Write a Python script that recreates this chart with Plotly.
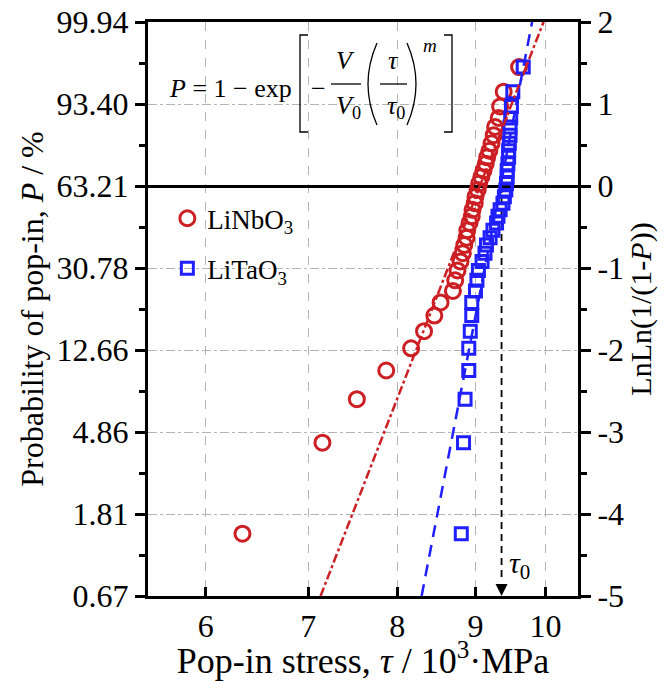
import math
import plotly.graph_objects as go

# Weibull plotting position LnLn(1/(1-P)) of each ranked pop-in (35 indents per crystal)
lnln = [-4.24, -3.13, -2.60, -2.25, -1.98, -1.77, -1.58, -1.42, -1.28, -1.15,
        -1.03, -0.92, -0.82, -0.72, -0.63, -0.54, -0.45, -0.37, -0.29, -0.21,
        -0.13, -0.05, 0.03, 0.11, 0.19, 0.27, 0.35, 0.43, 0.52, 0.62,
        0.72, 0.83, 0.97, 1.15, 1.45]

# pop-in stress, 10^3 MPa
tau_linbo3 = [6.34, 7.15, 7.53, 7.87, 8.17, 8.33, 8.46, 8.54, 8.70, 8.73,
              8.76, 8.80, 8.83, 8.85, 8.88, 8.89, 8.92, 8.95, 8.96, 8.99,
              9.00, 9.03, 9.05, 9.08, 9.11, 9.14, 9.16, 9.19, 9.22, 9.25,
              9.27, 9.32, 9.34, 9.39, 9.61]
tau_litao3 = [8.81, 8.84, 8.86, 8.91, 8.91, 8.93, 8.95, 8.95, 9.00, 9.02,
              9.04, 9.09, 9.13, 9.15, 9.20, 9.24, 9.29, 9.31, 9.34, 9.38,
              9.40, 9.42, 9.43, 9.44, 9.44, 9.45, 9.46, 9.46, 9.47, 9.48,
              9.48, 9.49, 9.50, 9.52, 9.67]

# Weibull fit lines (end points)
fit_y = [-5, 2]
fit_linbo3_tau = [7.13, 9.97]
fit_litao3_tau = [8.30, 9.80]
tau0 = 9.36

y_ticks = [-5, -4, -3, -2, -1, 0, 1, 2]
prob_labels = ["0.67", "1.81", "4.86", "12.66", "30.78", "63.21", "93.40", "99.94"]
lnln_labels = ["-5", "-4", "-3", "-2", "-1", "0", "1", "2"]
x_ticks = [6, 7, 8, 9, 10]

RED = "#cc1f24"
BLUE = "#1f1fff"
FONT = "Liberation Serif"

W, H = 670, 681
# plot area in pixels, used to place the equation drawing
L, R, T, B = 148, 578, 22, 596


def pp(x, y):
    return (x - L) / (R - L), (B - y) / (B - T)


fig = go.Figure()
fig.add_trace(go.Scatter(
    x=fit_linbo3_tau, y=fit_y, mode="lines", yaxis="y2", showlegend=False,
    line=dict(color=RED, width=2.5, dash="dashdot"), hoverinfo="skip"))
fig.add_trace(go.Scatter(
    x=fit_litao3_tau, y=fit_y, mode="lines", yaxis="y2", showlegend=False,
    line=dict(color=BLUE, width=2.5, dash="12px,8px"), hoverinfo="skip"))
fig.add_trace(go.Scatter(
    x=[tau0, tau0], y=[0, -4.8], mode="lines", showlegend=False,
    line=dict(color="black", width=1.8, dash="7px,5px"), hoverinfo="skip"))
fig.add_trace(go.Scatter(
    x=tau_linbo3, y=lnln, mode="markers", name="LiNbO<sub>3</sub>", legendgroup="a",
    marker=dict(symbol="circle-open", size=15, color=RED, line=dict(width=3, color=RED))))
fig.add_trace(go.Scatter(
    x=tau_litao3, y=lnln, mode="markers", name="LiTaO<sub>3</sub>", legendgroup="b",
    marker=dict(symbol="square-open", size=12, color=BLUE, line=dict(width=3, color=BLUE))))

# arrow head at the foot of the tau0 line (log axis -> annotation x in log10 units)
lx0 = math.log10(tau0)
fig.add_annotation(x=lx0, y=-5, ax=lx0, ay=-4.75, xref="x", yref="y", axref="x", ayref="y",
                   showarrow=True, arrowhead=2, arrowsize=1.5, arrowwidth=1.6,
                   arrowcolor="black", text=" ")
fig.add_annotation(x=lx0, y=-4.62, xref="x", yref="y", xshift=5, xanchor="left",
                   text="<i>τ</i><sub>0</sub>", showarrow=False,
                   font=dict(size=30, family=FONT, color="black"))

# equation P = 1 - exp[-(V/V0)(tau/tau0)^m]
eq_font = dict(size=26, family=FONT, color="black")
texts = [
    (294, 88, "<i>P</i> = 1 − exp", "right", eq_font),
    (318, 88, "−", "center", eq_font),
    (345, 60, "<i>V</i>", "center", eq_font),
    (348, 107, "<i>V</i><sub>0</sub>", "center", eq_font),
    (393, 60, "<i>τ</i>", "center", eq_font),
    (396, 107, "<i>τ</i><sub>0</sub>", "center", eq_font),
    (430, 46, "<i>m</i>", "center", dict(size=19, family=FONT, color="black")),
]
for x, y, t, anc, f in texts:
    px_, py_ = pp(x, y)
    fig.add_annotation(x=px_, y=py_, xref="paper", yref="paper", text=t, showarrow=False,
                       xanchor=anc, yanchor="middle", font=f)


def path(points, curve=False):
    pts = [pp(x, y) for x, y in points]
    if curve:
        (a, b), (c, d), (e, f) = pts
        return f"M {a},{b} Q {c},{d} {e},{f}"
    return "M " + " L ".join(f"{a},{b}" for a, b in pts)


eq_shapes = [
    path([(308, 35), (300, 35), (300, 132), (308, 132)]),
    path([(444, 35), (452, 35), (452, 132), (444, 132)]),
    path([(377, 43), (359, 84), (377, 125)], curve=True),
    path([(407, 43), (425, 84), (407, 125)], curve=True),
    path([(331, 84), (361, 84)]),
    path([(380, 84), (407, 84)]),
]
for p in eq_shapes:
    fig.add_shape(type="path", path=p, xref="paper", yref="paper",
                  line=dict(color="black", width=1.3))

tick_font = dict(size=32, family=FONT, color="black")
minor_y = [-4.5, -3.5, -2.5, -1.5, -0.5, 0.5, 1.5]

fig.update_layout(
    width=W, height=H,
    margin=dict(l=L, r=W - R, t=T, b=H - B),
    paper_bgcolor="white", plot_bgcolor="white",
    font=dict(family=FONT, color="black"),
    xaxis=dict(
        type="log", range=[0.7404, 1.0212], automargin=False,
        tickvals=x_ticks, ticktext=[str(v) for v in x_ticks],
        ticks="inside", ticklen=9, tickwidth=2.5, tickcolor="black",
        showline=True, linewidth=3, linecolor="black", mirror=True,
        showgrid=True, gridcolor="#b4b4b4", gridwidth=1, griddash="dash",
        tickfont=tick_font,
        title=dict(text="Pop-in stress, <i>τ</i> / 10<sup>3</sup>·MPa",
                   font=dict(size=36, family=FONT, color="black"), standoff=2),
    ),
    yaxis=dict(
        range=[-5, 2], tickvals=y_ticks, ticktext=prob_labels, automargin=False,
        ticks="outside", ticklen=10, tickwidth=2.5, tickcolor="black",
        minor=dict(tickvals=minor_y, ticks="outside",
                   ticklen=6, tickwidth=2.5, tickcolor="black", showgrid=False),
        showline=True, linewidth=3, linecolor="black",
        showgrid=True, gridcolor="#b4b4b4", gridwidth=1, griddash="dashdot",
        zeroline=True, zerolinecolor="black", zerolinewidth=2.5,
        tickfont=tick_font,
        title=dict(text="Probability of pop-in, <i>P</i> / %",
                   font=dict(size=32, family=FONT, color="black"), standoff=4),
    ),
    yaxis2=dict(
        overlaying="y", side="right", range=[-5, 2], tickvals=y_ticks, ticktext=lnln_labels,
        automargin=False,
        ticks="outside", ticklen=10, tickwidth=2.5, tickcolor="black",
        minor=dict(tickvals=minor_y, ticks="outside",
                   ticklen=6, tickwidth=2.5, tickcolor="black"),
        showline=True, linewidth=3, linecolor="black",
        showgrid=False, zeroline=False,
        tickfont=tick_font,
        title=dict(text="LnLn(1/(1-<i>P</i>))",
                   font=dict(size=30, family=FONT, color="black"), standoff=4),
    ),
    legend=dict(x=0.045, y=0.70, xanchor="left", yanchor="top",
                bgcolor="rgba(0,0,0,0)", tracegroupgap=12,
                font=dict(size=27, family=FONT, color="black")),
    showlegend=True,
)

# drop the browser's default 8px body margin so the figure sits at the page origin
fig.write_html("out.html", config={"displayModeBar": False},
               post_script="document.body.style.margin='0';")
